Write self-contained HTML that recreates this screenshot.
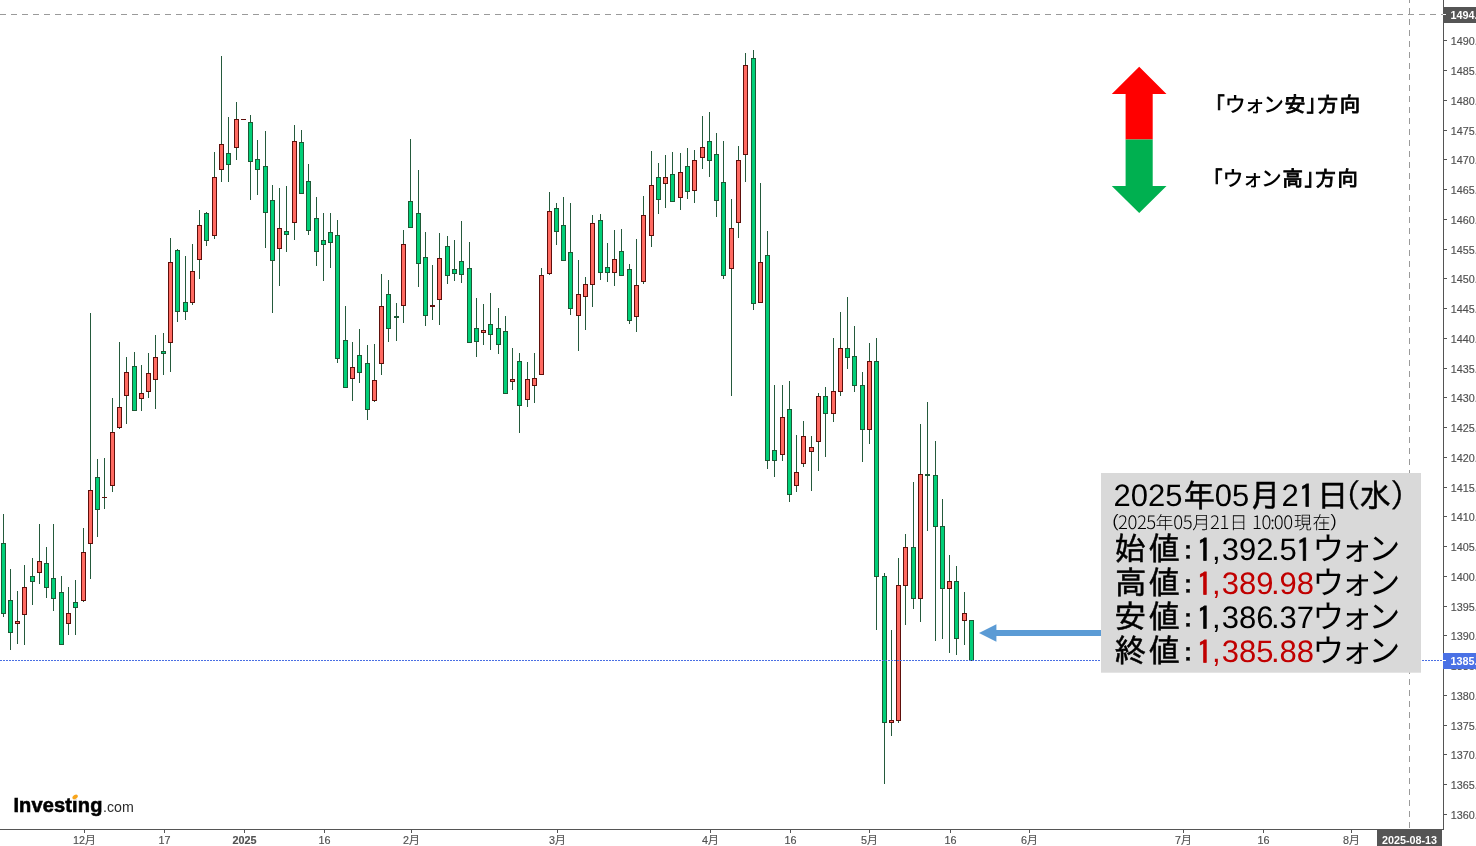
<!DOCTYPE html>
<html lang="ja"><head><meta charset="utf-8"><title>USD/KRW</title>
<style>
html,body{margin:0;padding:0;background:#fff;}
body{width:1476px;height:846px;position:relative;overflow:hidden;font-family:"Liberation Sans","IPAGothic","Noto Sans CJK JP",sans-serif;}
#chart{position:absolute;left:0;top:0;}
.ax text{font-family:"Liberation Sans","Noto Sans CJK JP",sans-serif;font-size:10.8px;fill:#505050;stroke:#505050;stroke-width:0.15px;}
.abs{position:absolute;white-space:nowrap;line-height:1;}
.f0{font-family:"Liberation Sans",sans-serif;font-size:31px;font-weight:400}
.f1{font-family:"IPAGothic","Noto Sans CJK JP",sans-serif;font-size:32px;font-weight:400}
.f2{font-family:"IPAGothic","Noto Sans CJK JP",sans-serif;font-size:18px;font-weight:400}
.f3{font-family:"Noto Sans CJK JP","IPAGothic",sans-serif;font-size:18.5px;font-weight:300}
.f4{font-family:"Noto Sans CJK JP","IPAGothic",sans-serif;font-size:18px;font-weight:300}
.f5{font-family:"IPAGothic","Noto Sans CJK JP",sans-serif;font-size:28px;font-weight:400}
.f6{font-family:"Noto Sans CJK JP","IPAGothic",sans-serif;font-size:32px;font-weight:400}
.f7{font-family:"IPAGothic","Noto Sans CJK JP",sans-serif;font-size:21px;font-weight:400}
.f8{font-family:"Noto Sans CJK JP","IPAGothic",sans-serif;font-size:21px;font-weight:500}
</style></head><body>
<svg id="chart" width="1476" height="846" viewBox="0 0 1476 846" shape-rendering="crispEdges">
<rect width="1476" height="846" fill="#fff"/>
<line x1="0" y1="14.5" x2="1443" y2="14.5" stroke="#9a9a9a" stroke-width="1" stroke-dasharray="5.5 5.5"/>
<line x1="1409.5" y1="-3" x2="1409.5" y2="829" stroke="#9a9a9a" stroke-width="1" stroke-dasharray="5.5 5.5"/>
<path fill="#245a3c" d="M3 514h1v103h-1zM10 569h1v81h-1zM17 591h1v53h-1zM24 565h1v80h-1zM32 558h1v47h-1zM39 524h1v60h-1zM46 547h1v51h-1zM53 524h1v87h-1zM61 576h1v69h-1zM68 587h1v48h-1zM75 580h1v55h-1zM83 528h1v74h-1zM90 313h1v266h-1zM97 459h1v78h-1zM104 458h1v51h-1zM112 398h1v94h-1zM119 342h1v87h-1zM126 357h1v67h-1zM134 352h1v59h-1zM141 365h1v46h-1zM148 353h1v45h-1zM155 335h1v74h-1zM163 333h1v42h-1zM170 238h1v134h-1zM177 249h1v73h-1zM185 256h1v64h-1zM192 244h1v61h-1zM199 210h1v69h-1zM206 212h1v34h-1zM214 152h1v87h-1zM221 56h1v126h-1zM228 117h1v65h-1zM236 102h1v58h-1zM250 115h1v85h-1zM257 140h1v55h-1zM265 131h1v117h-1zM272 185h1v128h-1zM279 188h1v98h-1zM286 186h1v66h-1zM294 125h1v115h-1zM301 130h1v64h-1zM308 164h1v71h-1zM316 197h1v69h-1zM323 213h1v68h-1zM330 213h1v55h-1zM337 220h1v143h-1zM345 306h1v82h-1zM352 342h1v59h-1zM359 329h1v54h-1zM367 345h1v75h-1zM374 344h1v58h-1zM381 274h1v101h-1zM388 280h1v62h-1zM396 303h1v38h-1zM403 230h1v93h-1zM410 139h1v89h-1zM418 170h1v117h-1zM425 232h1v94h-1zM432 265h1v55h-1zM439 233h1v92h-1zM447 236h1v48h-1zM454 240h1v41h-1zM461 221h1v62h-1zM469 242h1v101h-1zM476 298h1v59h-1zM483 304h1v41h-1zM490 293h1v57h-1zM498 308h1v46h-1zM505 316h1v78h-1zM512 348h1v42h-1zM519 353h1v80h-1zM527 362h1v45h-1zM534 353h1v50h-1zM541 268h1v107h-1zM549 192h1v83h-1zM556 203h1v42h-1zM563 197h1v64h-1zM570 203h1v112h-1zM578 260h1v91h-1zM585 277h1v53h-1zM592 215h1v92h-1zM600 214h1v66h-1zM607 243h1v39h-1zM614 230h1v56h-1zM621 229h1v47h-1zM629 264h1v60h-1zM636 239h1v93h-1zM643 196h1v88h-1zM651 151h1v96h-1zM658 163h1v51h-1zM665 155h1v53h-1zM672 152h1v50h-1zM680 153h1v57h-1zM687 148h1v51h-1zM694 150h1v53h-1zM702 116h1v53h-1zM709 112h1v65h-1zM716 133h1v84h-1zM723 141h1v138h-1zM731 199h1v197h-1zM738 146h1v92h-1zM745 53h1v129h-1zM753 50h1v260h-1zM760 183h1v120h-1zM767 231h1v238h-1zM774 385h1v92h-1zM782 385h1v76h-1zM789 381h1v121h-1zM796 435h1v57h-1zM803 421h1v46h-1zM811 436h1v55h-1zM818 393h1v78h-1zM825 387h1v70h-1zM833 338h1v84h-1zM840 312h1v84h-1zM847 297h1v72h-1zM854 326h1v66h-1zM862 372h1v90h-1zM869 343h1v101h-1zM876 338h1v292h-1zM884 573h1v211h-1zM891 630h1v106h-1zM898 558h1v165h-1zM905 534h1v91h-1zM913 482h1v127h-1zM920 424h1v198h-1zM927 402h1v129h-1zM935 441h1v200h-1zM942 499h1v140h-1zM949 555h1v98h-1zM956 566h1v89h-1zM964 592h1v53h-1zM971 620h1v41h-1z"/><path fill="#1c5a35" d="M1 543h5v71h-5zM8 600h5v33h-5zM30 576h5v6h-5zM44 563h5v25h-5zM51 578h5v21h-5zM59 592h5v53h-5zM73 602h5v6h-5zM95 477h5v33h-5zM132 366h5v45h-5zM161 351h5v3h-5zM175 250h5v62h-5zM183 302h5v10h-5zM204 213h5v28h-5zM226 153h5v12h-5zM248 122h5v40h-5zM255 159h5v11h-5zM263 166h5v47h-5zM270 200h5v61h-5zM284 231h5v4h-5zM299 142h5v52h-5zM306 181h5v50h-5zM314 218h5v34h-5zM321 240h5v5h-5zM328 232h5v11h-5zM335 235h5v124h-5zM343 340h5v48h-5zM357 355h5v18h-5zM365 363h5v47h-5zM386 294h5v35h-5zM394 316h5v2h-5zM408 201h5v27h-5zM416 213h5v51h-5zM423 257h5v59h-5zM445 246h5v30h-5zM452 269h5v5h-5zM459 261h5v14h-5zM467 268h5v75h-5zM474 328h5v14h-5zM488 324h5v11h-5zM496 328h5v17h-5zM503 331h5v63h-5zM517 361h5v45h-5zM554 208h5v24h-5zM561 225h5v36h-5zM568 252h5v57h-5zM598 220h5v53h-5zM605 267h5v6h-5zM619 251h5v25h-5zM627 269h5v52h-5zM656 177h5v23h-5zM670 174h5v28h-5zM685 166h5v26h-5zM707 141h5v20h-5zM714 154h5v47h-5zM721 182h5v94h-5zM751 58h5v246h-5zM765 255h5v206h-5zM772 450h5v11h-5zM787 409h5v86h-5zM823 396h5v18h-5zM845 348h5v10h-5zM852 356h5v30h-5zM860 385h5v45h-5zM874 361h5v216h-5zM882 576h5v147h-5zM911 547h5v52h-5zM925 474h5v2h-5zM933 475h5v52h-5zM940 526h5v63h-5zM954 581h5v58h-5zM969 620h5v41h-5z"/><path fill="#00cf78" d="M2 544h3v69h-3zM9 601h3v31h-3zM31 577h3v4h-3zM45 564h3v23h-3zM52 579h3v19h-3zM60 593h3v51h-3zM74 603h3v4h-3zM96 478h3v31h-3zM133 367h3v43h-3zM162 352h3v1h-3zM176 251h3v60h-3zM184 303h3v8h-3zM205 214h3v26h-3zM227 154h3v10h-3zM249 123h3v38h-3zM256 160h3v9h-3zM264 167h3v45h-3zM271 201h3v59h-3zM285 232h3v2h-3zM300 143h3v50h-3zM307 182h3v48h-3zM315 219h3v32h-3zM322 241h3v3h-3zM329 233h3v9h-3zM336 236h3v122h-3zM344 341h3v46h-3zM358 356h3v16h-3zM366 364h3v45h-3zM387 295h3v33h-3zM409 202h3v25h-3zM417 214h3v49h-3zM424 258h3v57h-3zM446 247h3v28h-3zM453 270h3v3h-3zM460 262h3v12h-3zM468 269h3v73h-3zM475 329h3v12h-3zM489 325h3v9h-3zM497 329h3v15h-3zM504 332h3v61h-3zM518 362h3v43h-3zM555 209h3v22h-3zM562 226h3v34h-3zM569 253h3v55h-3zM599 221h3v51h-3zM606 268h3v4h-3zM620 252h3v23h-3zM628 270h3v50h-3zM657 178h3v21h-3zM671 175h3v26h-3zM686 167h3v24h-3zM708 142h3v18h-3zM715 155h3v45h-3zM722 183h3v92h-3zM752 59h3v244h-3zM766 256h3v204h-3zM773 451h3v9h-3zM788 410h3v84h-3zM824 397h3v16h-3zM846 349h3v8h-3zM853 357h3v28h-3zM861 386h3v43h-3zM875 362h3v214h-3zM883 577h3v145h-3zM912 548h3v50h-3zM934 476h3v50h-3zM941 527h3v61h-3zM955 582h3v56h-3zM970 621h3v39h-3z"/><path fill="#5e0f0b" d="M15 621h5v3h-5zM22 587h5v28h-5zM37 561h5v12h-5zM66 613h5v11h-5zM81 552h5v49h-5zM88 490h5v54h-5zM102 497h5v1h-5zM110 432h5v54h-5zM117 407h5v21h-5zM124 372h5v24h-5zM139 393h5v6h-5zM146 373h5v19h-5zM153 357h5v23h-5zM168 262h5v81h-5zM190 271h5v32h-5zM197 225h5v35h-5zM212 177h5v59h-5zM219 144h5v26h-5zM234 119h5v29h-5zM241 119h5v1h-5zM277 228h5v21h-5zM292 141h5v82h-5zM350 367h5v12h-5zM372 380h5v21h-5zM379 306h5v58h-5zM401 244h5v62h-5zM430 305h5v2h-5zM437 258h5v42h-5zM481 330h5v3h-5zM510 379h5v3h-5zM525 379h5v21h-5zM532 378h5v8h-5zM539 275h5v100h-5zM547 211h5v63h-5zM576 294h5v22h-5zM583 284h5v13h-5zM590 223h5v62h-5zM612 259h5v14h-5zM634 285h5v32h-5zM641 215h5v67h-5zM649 185h5v51h-5zM663 177h5v7h-5zM678 172h5v26h-5zM692 160h5v31h-5zM700 147h5v11h-5zM729 228h5v41h-5zM736 160h5v63h-5zM743 65h5v90h-5zM758 262h5v41h-5zM780 417h5v38h-5zM794 472h5v14h-5zM801 436h5v28h-5zM809 447h5v5h-5zM816 396h5v46h-5zM831 391h5v23h-5zM838 348h5v44h-5zM867 361h5v69h-5zM889 720h5v3h-5zM896 585h5v136h-5zM903 547h5v39h-5zM918 474h5v125h-5zM947 581h5v8h-5zM962 613h5v8h-5z"/><path fill="#ff6a61" d="M16 622h3v1h-3zM23 588h3v26h-3zM38 562h3v10h-3zM67 614h3v9h-3zM82 553h3v47h-3zM89 491h3v52h-3zM111 433h3v52h-3zM118 408h3v19h-3zM125 373h3v22h-3zM140 394h3v4h-3zM147 374h3v17h-3zM154 358h3v21h-3zM169 263h3v79h-3zM191 272h3v30h-3zM198 226h3v33h-3zM213 178h3v57h-3zM220 145h3v24h-3zM235 120h3v27h-3zM278 229h3v19h-3zM293 142h3v80h-3zM351 368h3v10h-3zM373 381h3v19h-3zM380 307h3v56h-3zM402 245h3v60h-3zM438 259h3v40h-3zM482 331h3v1h-3zM511 380h3v1h-3zM526 380h3v19h-3zM533 379h3v6h-3zM540 276h3v98h-3zM548 212h3v61h-3zM577 295h3v20h-3zM584 285h3v11h-3zM591 224h3v60h-3zM613 260h3v12h-3zM635 286h3v30h-3zM642 216h3v65h-3zM650 186h3v49h-3zM664 178h3v5h-3zM679 173h3v24h-3zM693 161h3v29h-3zM701 148h3v9h-3zM730 229h3v39h-3zM737 161h3v61h-3zM744 66h3v88h-3zM759 263h3v39h-3zM781 418h3v36h-3zM795 473h3v12h-3zM802 437h3v26h-3zM810 448h3v3h-3zM817 397h3v44h-3zM832 392h3v21h-3zM839 349h3v42h-3zM868 362h3v67h-3zM890 721h3v1h-3zM897 586h3v134h-3zM904 548h3v37h-3zM919 475h3v123h-3zM948 582h3v6h-3zM963 614h3v6h-3z"/>
<line x1="0" y1="660.5" x2="1443" y2="660.5" stroke="#4a6fe3" stroke-width="1" stroke-dasharray="2 1"/>
<path fill="#555" d="M1443 0h1v830h-1zM0 829h1444v1h-1444zM1444 814h3v1h-3zM1444 784h3v1h-3zM1444 754h3v1h-3zM1444 725h3v1h-3zM1444 695h3v1h-3zM1444 665h3v1h-3zM1444 635h3v1h-3zM1444 606h3v1h-3zM1444 576h3v1h-3zM1444 546h3v1h-3zM1444 516h3v1h-3zM1444 487h3v1h-3zM1444 457h3v1h-3zM1444 427h3v1h-3zM1444 397h3v1h-3zM1444 368h3v1h-3zM1444 338h3v1h-3zM1444 308h3v1h-3zM1444 278h3v1h-3zM1444 249h3v1h-3zM1444 219h3v1h-3zM1444 189h3v1h-3zM1444 159h3v1h-3zM1444 130h3v1h-3zM1444 100h3v1h-3zM1444 70h3v1h-3zM1444 40h3v1h-3zM84 830h1v3h-1zM164 830h1v3h-1zM244 830h1v3h-1zM324 830h1v3h-1zM411 830h1v3h-1zM557 830h1v3h-1zM710 830h1v3h-1zM790 830h1v3h-1zM869 830h1v3h-1zM950 830h1v3h-1zM1029 830h1v3h-1zM1183 830h1v3h-1zM1263 830h1v3h-1zM1351 830h1v3h-1z"/>
<g class="ax" shape-rendering="auto"><text x="1450.7" y="818.5">1360.00</text><text x="1450.7" y="788.5">1365.00</text><text x="1450.7" y="758.5">1370.00</text><text x="1450.7" y="729.5">1375.00</text><text x="1450.7" y="699.5">1380.00</text><text x="1450.7" y="669.5">1385.00</text><text x="1450.7" y="639.5">1390.00</text><text x="1450.7" y="610.5">1395.00</text><text x="1450.7" y="580.5">1400.00</text><text x="1450.7" y="550.5">1405.00</text><text x="1450.7" y="520.5">1410.00</text><text x="1450.7" y="491.5">1415.00</text><text x="1450.7" y="461.5">1420.00</text><text x="1450.7" y="431.5">1425.00</text><text x="1450.7" y="401.5">1430.00</text><text x="1450.7" y="372.5">1435.00</text><text x="1450.7" y="342.5">1440.00</text><text x="1450.7" y="312.5">1445.00</text><text x="1450.7" y="282.5">1450.00</text><text x="1450.7" y="253.5">1455.00</text><text x="1450.7" y="223.5">1460.00</text><text x="1450.7" y="193.5">1465.00</text><text x="1450.7" y="163.5">1470.00</text><text x="1450.7" y="134.5">1475.00</text><text x="1450.7" y="104.5">1480.00</text><text x="1450.7" y="74.5">1485.00</text><text x="1450.7" y="44.5">1490.00</text><text x="84.5" y="843.6" text-anchor="middle">12月</text><text x="164.5" y="843.6" text-anchor="middle">17</text><text x="244.5" y="843.6" text-anchor="middle" font-weight="bold">2025</text><text x="324.5" y="843.6" text-anchor="middle">16</text><text x="411.5" y="843.6" text-anchor="middle">2月</text><text x="557.5" y="843.6" text-anchor="middle">3月</text><text x="710.5" y="843.6" text-anchor="middle">4月</text><text x="790.5" y="843.6" text-anchor="middle">16</text><text x="869.5" y="843.6" text-anchor="middle">5月</text><text x="950.5" y="843.6" text-anchor="middle">16</text><text x="1029.5" y="843.6" text-anchor="middle">6月</text><text x="1183.5" y="843.6" text-anchor="middle">7月</text><text x="1263.5" y="843.6" text-anchor="middle">16</text><text x="1351.5" y="843.6" text-anchor="middle">8月</text></g>
<rect x="1444" y="7" width="32" height="16" fill="#555"/>
<rect x="1443" y="14" width="3" height="1" fill="#fff"/>
<rect x="1443" y="653" width="33" height="16" fill="#4a71e5"/>
<rect x="1443" y="660" width="3" height="1" fill="#fff"/>
<rect x="1377" y="830" width="65" height="16" fill="#555"/>
<g shape-rendering="auto" font-family="Liberation Sans, sans-serif" font-size="10.8" font-weight="bold" fill="#fff">
<text x="1450.4" y="18.9">1494.37</text>
<text x="1450.4" y="664.9">1385.88</text>
<text x="1409.5" y="843.6" text-anchor="middle">2025-08-13</text>
</g>
<g shape-rendering="auto">
<path fill="#5b9bd5" d="M979 633L996.4 624.2V630H1101V636H996.4V641.8Z"/>
<path fill="#ff0000" d="M1139.2 66.8L1166.5 94H1152.7V139.4H1125.6V94H1111.8Z"/>
<path fill="#00b050" d="M1125.6 139.4H1152.7V186H1166.5L1139.2 213L1111.8 186H1125.6Z"/>
</g>
<rect x="1101" y="473" width="320" height="199.7" fill="#d9d9d9" shape-rendering="auto"/>
<g shape-rendering="auto" text-rendering="geometricPrecision"><text><tspan class="f0" x="1113.5" y="505.7">2025</tspan><tspan class="f1" x="1183.1" y="506.5" stroke="#000" stroke-width="0.5">年</tspan><tspan class="f0" x="1214.8" y="505.7">05</tspan><tspan class="f1" x="1249.3" y="506.5" stroke="#000" stroke-width="0.5">月</tspan><tspan class="f0" x="1281.4" y="505.7">2</tspan><tspan class="f1" x="1298.8" y="507.7" stroke="#000" stroke-width="0.7">1</tspan><tspan class="f1" x="1316.7" y="506.5" stroke="#000" stroke-width="0.5">日</tspan><tspan class="f1" x="1345.0" y="506.5" stroke="#000" stroke-width="0.3">(</tspan><tspan class="f1" x="1359.3" y="506.5" stroke="#000" stroke-width="0.5">水</tspan><tspan class="f1" x="1389.8" y="506.5" stroke="#000" stroke-width="0.3">)</tspan></text><text><tspan class="f2" x="1110.8" y="529.3">(</tspan><tspan class="f3" x="1118.0" y="528.5" letter-spacing="-0.45">2025</tspan><tspan class="f4" x="1155.5" y="529.0">年</tspan><tspan class="f3" x="1173.3" y="528.5" letter-spacing="-0.45">05</tspan><tspan class="f4" x="1192.2" y="529.0">月</tspan><tspan class="f3" x="1210.1" y="528.5" letter-spacing="-0.45">21</tspan><tspan class="f4" x="1229.5" y="529.0">日</tspan> <tspan class="f3" x="1252.0" y="528.5" letter-spacing="-0.45">10</tspan><tspan class="f3" x="1270.2" y="528.5">:</tspan><tspan class="f3" x="1273.8" y="528.5" letter-spacing="-0.45">00</tspan><tspan class="f4" x="1293.7" y="529.0">現</tspan><tspan class="f4" x="1312.4" y="529.0">在</tspan><tspan class="f2" x="1329.2" y="529.3">)</tspan></text><text><tspan class="f1" x="1114.2" y="560.4" stroke="#000" stroke-width="0.5">始</tspan><tspan class="f1" x="1148.2" y="560.4" stroke="#000" stroke-width="0.5">値</tspan><tspan class="f5" x="1181.1" y="559.9" stroke="#000" stroke-width="0.3">:</tspan><tspan class="f1" x="1196.4" y="561.6" stroke="#000" stroke-width="0.7">1</tspan><tspan class="f0" x="1212.1" y="559.6">,</tspan><tspan class="f0" x="1221.7" y="559.6">392</tspan><tspan class="f0" x="1271.1" y="559.6">.</tspan><tspan class="f0" x="1279.5" y="559.6">5</tspan><tspan class="f1" x="1296.0" y="561.6" stroke="#000" stroke-width="0.7">1</tspan><tspan class="f6" x="1312.3" y="560.4">ウ</tspan><tspan class="f6" x="1340.4" y="560.4">ォ</tspan><tspan class="f6" x="1368.3" y="560.4">ン</tspan></text><text><tspan class="f1" x="1114.7" y="594.4" stroke="#000" stroke-width="0.5">高</tspan><tspan class="f1" x="1148.2" y="594.4" stroke="#000" stroke-width="0.5">値</tspan><tspan class="f5" x="1181.1" y="593.9" stroke="#000" stroke-width="0.3">:</tspan><tspan class="f1" x="1196.4" y="595.6" fill="#c00000" stroke="#c00000" stroke-width="0.7">1</tspan><tspan class="f0" x="1212.1" y="593.6" fill="#c00000">,</tspan><tspan class="f0" x="1221.7" y="593.6" fill="#c00000">389</tspan><tspan class="f0" x="1271.1" y="593.6" fill="#c00000">.</tspan><tspan class="f0" x="1279.5" y="593.6" fill="#c00000">98</tspan><tspan class="f6" x="1312.3" y="594.4">ウ</tspan><tspan class="f6" x="1340.4" y="594.4">ォ</tspan><tspan class="f6" x="1368.3" y="594.4">ン</tspan></text><text><tspan class="f1" x="1114.2" y="628.4" stroke="#000" stroke-width="0.5">安</tspan><tspan class="f1" x="1148.2" y="628.4" stroke="#000" stroke-width="0.5">値</tspan><tspan class="f5" x="1181.1" y="627.9" stroke="#000" stroke-width="0.3">:</tspan><tspan class="f1" x="1196.4" y="629.6" stroke="#000" stroke-width="0.7">1</tspan><tspan class="f0" x="1212.1" y="627.6">,</tspan><tspan class="f0" x="1221.7" y="627.6">386</tspan><tspan class="f0" x="1271.1" y="627.6">.</tspan><tspan class="f0" x="1279.5" y="627.6">37</tspan><tspan class="f6" x="1312.3" y="628.4">ウ</tspan><tspan class="f6" x="1340.4" y="628.4">ォ</tspan><tspan class="f6" x="1368.3" y="628.4">ン</tspan></text><text><tspan class="f1" x="1114.2" y="662.4" stroke="#000" stroke-width="0.5">終</tspan><tspan class="f1" x="1148.2" y="662.4" stroke="#000" stroke-width="0.5">値</tspan><tspan class="f5" x="1181.1" y="661.9" stroke="#000" stroke-width="0.3">:</tspan><tspan class="f1" x="1196.4" y="663.6" fill="#c00000" stroke="#c00000" stroke-width="0.7">1</tspan><tspan class="f0" x="1212.1" y="661.6" fill="#c00000">,</tspan><tspan class="f0" x="1221.7" y="661.6" fill="#c00000">385</tspan><tspan class="f0" x="1271.1" y="661.6" fill="#c00000">.</tspan><tspan class="f0" x="1279.5" y="661.6" fill="#c00000">88</tspan><tspan class="f6" x="1312.3" y="662.4">ウ</tspan><tspan class="f6" x="1340.4" y="662.4">ォ</tspan><tspan class="f6" x="1368.3" y="662.4">ン</tspan></text><text><tspan class="f7" x="1204.8" y="112.3" stroke="#000" stroke-width="0.9">「</tspan><tspan class="f8" x="1224.7" y="112.3">ウ</tspan><tspan class="f8" x="1244.1" y="112.3">ォ</tspan><tspan class="f8" x="1263.0" y="112.3">ン</tspan><tspan class="f7" x="1284.5" y="112.3" stroke="#000" stroke-width="0.9">安</tspan><tspan class="f7" x="1305.6" y="112.3" stroke="#000" stroke-width="0.9">」</tspan><tspan class="f7" x="1317.2" y="112.3" stroke="#000" stroke-width="0.9">方</tspan><tspan class="f7" x="1339.5" y="112.3" stroke="#000" stroke-width="0.9">向</tspan></text><text><tspan class="f7" x="1202.6" y="185.5" stroke="#000" stroke-width="0.9">「</tspan><tspan class="f8" x="1222.5" y="185.5">ウ</tspan><tspan class="f8" x="1241.9" y="185.5">ォ</tspan><tspan class="f8" x="1260.8" y="185.5">ン</tspan><tspan class="f7" x="1282.3" y="185.5" stroke="#000" stroke-width="0.9">高</tspan><tspan class="f7" x="1303.4" y="185.5" stroke="#000" stroke-width="0.9">」</tspan><tspan class="f7" x="1315.0" y="185.5" stroke="#000" stroke-width="0.9">方</tspan><tspan class="f7" x="1337.2" y="185.5" stroke="#000" stroke-width="0.9">向</tspan></text></g>
</svg>
<div class="abs" id="logo" style="left:13.4px;top:794.6px;font-family:'Liberation Sans',sans-serif;font-weight:bold;font-size:20px;color:#000;letter-spacing:0.15px;-webkit-text-stroke:0.6px #000;">Investing<span style="font-weight:normal;font-size:14.2px;color:#2a2a2a;letter-spacing:0;-webkit-text-stroke:0;margin-left:0.5px;">.com</span></div>
<div class="abs" style="left:72.3px;top:795.2px;width:6px;height:3.6px;border-radius:50%;background:#f8a51b;transform:rotate(-35deg);box-shadow:0 0 0 0.6px #fff;"></div>
</body></html>
